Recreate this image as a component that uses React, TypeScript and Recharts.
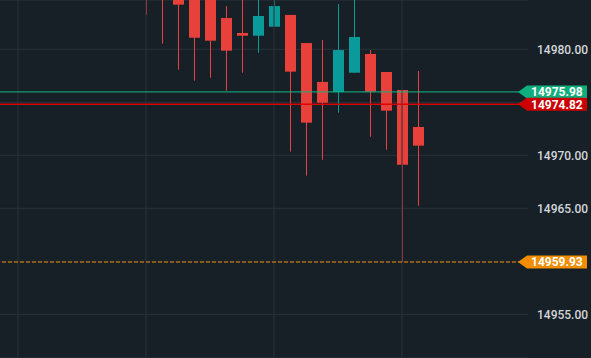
import React from 'react';
import { Bar, CartesianGrid, ComposedChart, ReferenceLine, XAxis, YAxis } from 'recharts';

// candle slots, 16px apart; the first ones are empty in this view
const slots = ['s0', 's1', 's2', 's3', 's4', 's5', 's6', 's7', 's8', 's9', 's10', 's11', 's12', 's13', 's14', 's15',
  's16', 's17', 's18', 's19', 's20', 's21', 's22', 's23', 's24', 's25', 's26', 's27', 's28', 's29', 's30', 's31'];

const opens = [null, null, null, null, null, null, null, null,
  14987.6, 14986.2, 14985.9, 14985.4, 14985.0, 14982.95, 14981.54, 14981.28,
  14982.13, 14983.24, 14980.59, 14976.92, 14975.97, 14977.79, 14979.56, 14977.86,
  14976.16, 14972.67, null, null, null, null, null, null];
const highs = [null, null, null, null, null, null, null, null,
  14988.4, 14987.0, 14986.3, 14986.0, 14985.6, 14984.08, 14985.3, 14985.0,
  14985.6, 14983.24, 14980.59, 14980.88, 14984.27, 14986.0, 14979.93, 14977.86,
  14976.16, 14977.95, null, null, null, null, null, null];
const lows = [null, null, null, null, null, null, null, null,
  14983.26, 14980.53, 14978.08, 14977.04, 14977.32, 14976.09, 14977.79, 14979.68,
  14982.13, 14970.34, 14968.08, 14969.58, 14974.02, 14977.79, 14971.75, 14970.53,
  14959.93, 14965.25, null, null, null, null, null, null];
const closes = [null, null, null, null, null, null, null, null,
  14985.1, 14984.9, 14984.21, 14981.09, 14980.81, 14979.87, 14981.28, 14983.14,
  14984.08, 14977.89, 14973.08, 14974.96, 14979.93, 14981.16, 14976.0, 14974.21,
  14969.11, 14970.91, null, null, null, null, null, null];

const priceTicks = [14955, 14960, 14965, 14970, 14975, 14980];
const gridSlots = ['s0', 's8', 's16', 's24'];

const askPrice = 14975.98;
const bidPrice = 14974.82;
const lowPrice = 14959.93;
const tagPrices = [askPrice, bidPrice, lowPrice];

const data = slots.map((s, i) => ({
  slot: s,
  open: opens[i],
  high: highs[i],
  low: lows[i],
  close: closes[i],
}));

const BG = '#172027';
const GRID = '#2a3239';
const UP = '#0a9a9a';
const DOWN = '#e8403a';

const Candle = (props: any) => {
  const { x, y, width, height, payload } = props;
  if (payload.low == null) return null;
  const { open, close, high, low } = payload;
  const k = height / (high - low);
  const yOf = (v: number) => y + (high - v) * k;
  const color = close >= open ? UP : DOWN;
  const cx = x + width / 2;
  const top = yOf(Math.max(open, close));
  const bottom = yOf(Math.min(open, close));
  return (
    <g>
      <line x1={cx} x2={cx} y1={y} y2={y + height} stroke={color} strokeWidth={1} />
      <rect x={x} y={top} width={width} height={Math.max(bottom - top, 1.5)} fill={color} />
    </g>
  );
};

// price labels under a price tag are covered by it, so leave them out
const PriceTick = (props: any) => {
  const { x, y, payload } = props;
  if (tagPrices.some((p) => Math.abs(p - payload.value) < 1.3)) return null;
  return (
    <text x={x} y={y} dy="0.36em" fill="#d3d6da" fontSize={12} fontWeight={500} textAnchor="start">
      {payload.value.toFixed(2)}
    </text>
  );
};

const PriceTag = (props: any) => {
  const { viewBox, fill, text } = props;
  if (!viewBox) return null;
  const right = viewBox.x + viewBox.width;
  const y = viewBox.y;
  const h = 6.5;
  const pts = `${right - 10},${y} ${right - 1},${y - h} ${right + 59},${y - h} ${right + 59},${y + h} ${right - 1},${y + h}`;
  return (
    <g>
      <polygon points={pts} fill={fill} />
      <text x={right + 3} y={y} dy="0.36em" fill="#ffffff" fontSize={12} fontWeight="bold" textAnchor="start">
        {text}
      </text>
    </g>
  );
};

export default function App() {
  return (
    <div style={{ position: 'absolute', left: 0, top: 0, width: 591, height: 358, background: BG }}>
      <ComposedChart
        width={591}
        height={358}
        data={data}
        margin={{ top: 0, right: 0, bottom: 0, left: 0 }}
        style={{ fontFamily: 'Roboto, sans-serif' }}
      >
        <CartesianGrid vertical={false} stroke={GRID} />
        <XAxis dataKey="slot" hide padding={{ left: 10, right: 6 }} />
        <YAxis
          orientation="right"
          width={63}
          domain={[14950.88, 14984.65]}
          allowDataOverflow
          ticks={priceTicks}
          tickLine={false}
          axisLine={false}
          tickMargin={3}
          tick={<PriceTick />}
        />
        {gridSlots.map((s) => (
          <ReferenceLine key={s} x={s} stroke={GRID} strokeWidth={1} />
        ))}
        <Bar
          dataKey={(d: any) => (d.low == null ? null : [d.low, d.high])}
          barSize={11}
          shape={<Candle />}
          isAnimationActive={false}
        />
        <ReferenceLine
          y={lowPrice}
          stroke="#f08a0a"
          strokeDasharray="4 2"
          label={<PriceTag fill="#f28c00" text={lowPrice.toFixed(2)} />}
        />
        <ReferenceLine
          y={askPrice}
          stroke="#12b886"
          label={<PriceTag fill="#0fae7c" text={askPrice.toFixed(2)} />}
        />
        <ReferenceLine
          y={bidPrice}
          stroke="#d90000"
          strokeWidth={1.5}
          label={<PriceTag fill="#cc0000" text={bidPrice.toFixed(2)} />}
        />
      </ComposedChart>
    </div>
  );
}
